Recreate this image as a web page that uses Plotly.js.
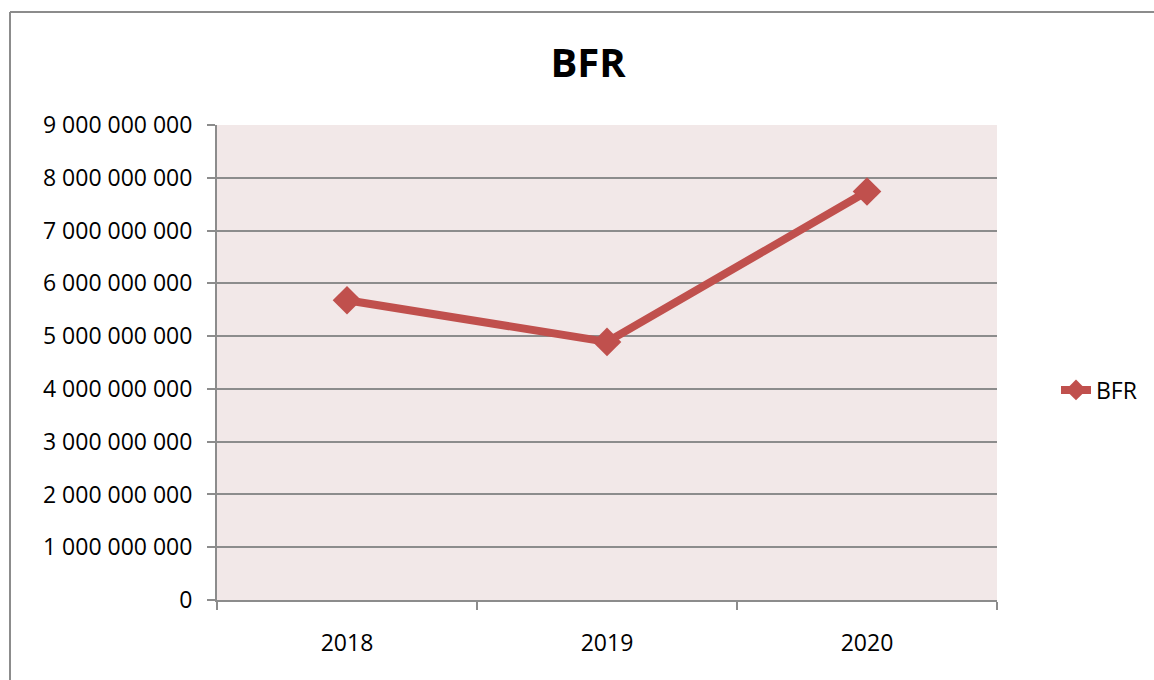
<!DOCTYPE html>
<html>
<head>
<meta charset="utf-8">
<script src="https://cdn.plot.ly/plotly-3.0.1.min.js"></script>
<style>html,body{margin:0;padding:0;background:#fff;}#chart{width:1154px;height:680px;}</style>
</head>
<body>
<div id="chart"></div>
<script>
const years = ['2018', '2019', '2020'];
const bfr = [5680000000, 4890000000, 7740000000];
const seriesName = 'BFR';
const chartTitle = 'BFR';

const FONT = '"Open Sans", "Liberation Sans", sans-serif';
const L = 217, R = 997, T = 125, B = 600;
const px = x => (x - L) / (R - L);
const py = y => (B - y) / (B - T);

const trace = {
  type: 'scatter',
  mode: 'lines+markers',
  name: seriesName,
  x: years,
  y: bfr,
  line: {color: '#C0504D', width: 8},
  marker: {symbol: 'diamond', size: 22, color: '#C0504D'},
  showlegend: true
};

const layout = {
  width: 1154, height: 680,
  margin: {l: L, r: 1154 - R, t: T, b: 680 - B, pad: 0},
  paper_bgcolor: '#ffffff',
  plot_bgcolor: '#F2E8E8',
  separators: ', ',
  font: {family: FONT, size: 23, color: '#000'},
  title: {text: '<b>' + chartTitle + '</b>', font: {family: FONT, size: 40, color: '#000'},
          x: px(588), xref: 'paper', xanchor: 'center', y: 1 - 63 / 680, yref: 'container', yanchor: 'middle'},
  xaxis: {
    type: 'category', range: [-0.5, 2.5],
    showgrid: false, zeroline: false,
    showline: true, linecolor: '#8c8c8c', linewidth: 2,
    ticks: 'outside', tickson: 'boundaries', ticklen: 8, tickcolor: '#8c8c8c', tickwidth: 2,
    ticklabelstandoff: 21,
    tickfont: {family: FONT, size: 23, color: '#000'}
  },
  yaxis: {
    range: [0, 9000000000], dtick: 1000000000, tickformat: ',d',
    showgrid: true, gridcolor: '#8c8c8c', gridwidth: 2,
    zeroline: false,
    showline: true, linecolor: '#8c8c8c', linewidth: 2,
    ticks: 'outside', ticklen: 8, tickcolor: '#8c8c8c', tickwidth: 2,
    ticklabelstandoff: 10,
    tickfont: {family: FONT, size: 23, color: '#000'}
  },
  legend: {
    x: px(1056), y: py(390), xanchor: 'left', yanchor: 'middle',
    bgcolor: 'rgba(0,0,0,0)', borderwidth: 0,
    font: {family: FONT, size: 23, color: '#000'}
  },
  shapes: [
    {type: 'line', xref: 'paper', yref: 'paper', x0: px(10), x1: px(10), y0: py(12), y1: py(700),
     line: {color: '#8c8c8c', width: 2}},
    {type: 'line', xref: 'paper', yref: 'paper', x0: px(10), x1: px(1170), y0: py(12), y1: py(12),
     line: {color: '#8c8c8c', width: 2}}
  ]
};

Plotly.newPlot('chart', [trace], layout, {displayModeBar: false, staticPlot: true});
</script>
</body>
</html>
